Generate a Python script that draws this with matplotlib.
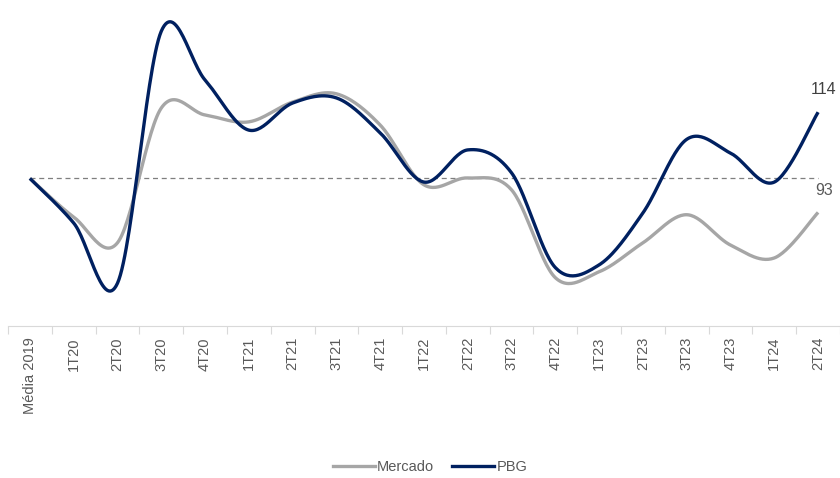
import numpy as np
import matplotlib
matplotlib.use("Agg")
import matplotlib.pyplot as plt
from matplotlib.lines import Line2D

categories = ["Média 2019", "1T20", "2T20", "3T20", "4T20", "1T21", "2T21", "3T21", "4T21",
              "1T22", "2T22", "3T22", "4T22", "1T23", "2T23", "3T23", "4T23", "1T24", "2T24"]
mercado = [100, 91.6, 86.0, 115.3, 113.8, 112.3, 116.6, 118.4, 111.6, 98.6, 100.1, 97.5,
           78.4, 79.7, 86.0, 92.1, 85.5, 82.7, 92.6]
pbg = [100, 90.3, 77.2, 132.0, 121.4, 110.5, 116.4, 117.5, 109.9, 99.2, 106.2, 101.2,
       80.6, 81.2, 92.5, 108.5, 105.5, 99.2, 114.4]
baseline = 100
label_mercado = "93"
label_pbg = "114"

C_MERC = "#A6A6A6"
C_PBG = "#002060"
C_TXT = "#595959"


def smooth(y, n=30):
    """Excel-like smoothed line (Catmull-Rom Bezier) through the points."""
    y = np.asarray(y, float)
    x = np.arange(len(y), dtype=float)
    P = np.column_stack([x, y])
    pts = []
    for i in range(len(P) - 1):
        p0 = P[i - 1] if i > 0 else P[i]
        p1 = P[i]
        p2 = P[i + 1]
        p3 = P[i + 2] if i + 2 < len(P) else P[i + 1]
        b1 = p1 + (p2 - p0) / 6.0
        b2 = p2 - (p3 - p1) / 6.0
        t = np.linspace(0, 1, n, endpoint=(i == len(P) - 2))[:, None]
        seg = ((1 - t) ** 3) * p1 + 3 * ((1 - t) ** 2) * t * b1 + 3 * (1 - t) * t ** 2 * b2 + t ** 3 * p2
        pts.append(seg)
    pts = np.vstack(pts)
    return pts[:, 0], pts[:, 1]


plt.rcParams['font.family'] = ['Liberation Sans', 'DejaVu Sans']

fig = plt.figure(figsize=(8.4, 4.78), dpi=100)
ax = fig.add_axes([8 / 840, (478 - 326) / 478, 832 / 840, 326 / 478])

n = len(categories)
ax.plot([0, n - 1], [baseline, baseline], color="#7F7F7F", lw=0.9, ls=(0, (4, 3)), zorder=1)

xm, ym = smooth(mercado)
ax.plot(xm, ym, color=C_MERC, lw=2.4, solid_capstyle="butt", zorder=2)
xp, yp = smooth(pbg)
ax.plot(xp, yp, color=C_PBG, lw=2.4, solid_capstyle="butt", zorder=3)

ax.set_xlim(-0.5, n - 0.5)
ax.set_ylim(67.9, 138.8)

ax.set_xticks(np.arange(n))
ax.set_xticklabels(categories, rotation=90, fontsize=10.5, color=C_TXT)
ax.set_xticks(np.arange(n + 1) - 0.5, minor=True)
ax.tick_params(axis="x", which="major", length=0, pad=8)
ax.tick_params(axis="x", which="minor", length=6, color="#D9D9D9", width=0.8)
ax.set_yticks([])
for s in ["top", "right", "left"]:
    ax.spines[s].set_visible(False)
ax.spines["bottom"].set_color("#D9D9D9")
ax.spines["bottom"].set_linewidth(0.8)

ax.annotate(label_pbg, (n - 1, pbg[-1]), xytext=(4, 11), textcoords="offset points",
            ha="center", va="bottom", fontsize=11.5, color="#404040")
ax.annotate(label_mercado, (n - 1, baseline), xytext=(4, -3), textcoords="offset points",
            ha="center", va="top", fontsize=11.5, color=C_TXT)

handles = [Line2D([], [], color=C_MERC, lw=2.4), Line2D([], [], color=C_PBG, lw=2.4)]
fig.legend(handles, ["Mercado", "PBG"], loc="center", bbox_to_anchor=(430 / 840, 1 - 467 / 478),
           ncol=2, frameon=False, fontsize=10.5, handlelength=2.9, handletextpad=0.15,
           columnspacing=1.2, labelcolor=C_TXT)

fig.savefig("out.png", dpi=100)
